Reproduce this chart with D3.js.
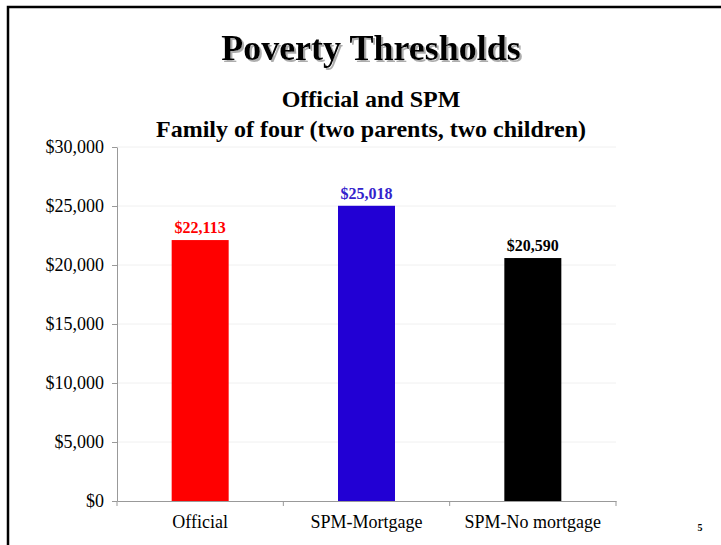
<!DOCTYPE html>
<html>
<head>
<meta charset="utf-8">
<script src="https://cdn.jsdelivr.net/npm/d3@7"></script>
<style>
  html, body { margin: 0; padding: 0; background: #fff; }
  svg { display: block; }
</style>
</head>
<body>
<svg id="chart" width="721" height="545"></svg>
<script>
// Poverty thresholds, family of four
const categories = ["Official", "SPM-Mortgage", "SPM-No mortgage"];
const values = [22113, 25018, 20590];
const barColors = ["#ff0000", "#2200d4", "#000000"];
const labelColors = ["#ff0000", "#3322cc", "#000000"];
const yTicks = [0, 5000, 10000, 15000, 20000, 25000, 30000];

const svg = d3.select("#chart");
const serif = "'Liberation Serif', 'Times New Roman', serif";

// soft grey shadow for the main title
const defs = svg.append("defs");
defs.append("filter").attr("id", "titleShadow")
  .attr("x", "-5%").attr("y", "-20%").attr("width", "110%").attr("height", "140%")
  .append("feDropShadow")
  .attr("dx", 2).attr("dy", 2).attr("stdDeviation", 0.6)
  .attr("flood-color", "#999").attr("flood-opacity", 0.8);

// slide frame (top and left edges)
svg.append("path")
  .attr("d", "M8,545 V7 H721")
  .attr("fill", "none")
  .attr("stroke", "#000")
  .attr("stroke-width", 2.5);

// titles
svg.append("text")
  .attr("x", 371).attr("y", 60)
  .attr("text-anchor", "middle")
  .attr("font-family", serif).attr("font-weight", "bold").attr("font-size", 36)
  .attr("fill", "#000")
  .attr("filter", "url(#titleShadow)")
  .text("Poverty Thresholds");

svg.append("text")
  .attr("x", 371).attr("y", 107)
  .attr("text-anchor", "middle")
  .attr("font-family", serif).attr("font-weight", "bold").attr("font-size", 24)
  .text("Official and SPM");
svg.append("text")
  .attr("x", 371).attr("y", 137)
  .attr("text-anchor", "middle")
  .attr("font-family", serif).attr("font-weight", "bold").attr("font-size", 24)
  .text("Family of four (two parents, two children)");

// scales
const x = d3.scaleBand().domain(categories).range([117, 616]).paddingInner(0).paddingOuter(0);
const y = d3.scaleLinear().domain([0, 30000]).range([501, 147]);
const barW = 57;

// gridlines
svg.append("g")
  .selectAll("line")
  .data(yTicks.filter(t => t > 0))
  .join("line")
  .attr("x1", 117).attr("x2", 616)
  .attr("y1", d => y(d)).attr("y2", d => y(d))
  .attr("stroke", "#f0f0f0").attr("stroke-width", 1);

// bars
svg.append("g")
  .selectAll("rect")
  .data(values)
  .join("rect")
  .attr("x", (d, i) => x(categories[i]) + x.bandwidth() / 2 - barW / 2)
  .attr("width", barW)
  .attr("y", d => y(d))
  .attr("height", d => y(0) - y(d))
  .attr("fill", (d, i) => barColors[i]);

// value labels
svg.append("g")
  .selectAll("text")
  .data(values)
  .join("text")
  .attr("x", (d, i) => x(categories[i]) + x.bandwidth() / 2)
  .attr("y", d => y(d) - 7)
  .attr("text-anchor", "middle")
  .attr("font-family", serif).attr("font-weight", "bold").attr("font-size", 16)
  .attr("fill", (d, i) => labelColors[i])
  .text(d => "$" + d3.format(",")(d));

// y axis
const yAxis = svg.append("g")
  .attr("transform", "translate(117,0)")
  .call(d3.axisLeft(y).tickValues(yTicks).tickSize(5).tickSizeOuter(0)
    .tickFormat(d => "$" + d3.format(",")(d)));
yAxis.select(".domain").attr("stroke", "#999");
yAxis.selectAll(".tick line").attr("stroke", "#999");
yAxis.selectAll(".tick text")
  .attr("font-family", serif).attr("font-size", 18).attr("fill", "#000")
  .attr("x", -13);

// x axis
const xAxis = svg.append("g")
  .attr("transform", "translate(0,501)")
  .call(d3.axisBottom(x).tickSize(0).tickSizeOuter(0));
xAxis.select(".domain").attr("stroke", "#999");
xAxis.selectAll(".tick text")
  .attr("font-family", serif).attr("font-size", 18).attr("fill", "#000")
  .attr("dy", 0).attr("y", 27);
// category separators
svg.append("g")
  .selectAll("line")
  .data(categories.map(c => x(c)).concat([x.range()[1]]))
  .join("line")
  .attr("x1", d => d).attr("x2", d => d)
  .attr("y1", 501).attr("y2", 506)
  .attr("stroke", "#999");

// page number
svg.append("text")
  .attr("x", 700).attr("y", 531)
  .attr("text-anchor", "middle")
  .attr("font-family", serif).attr("font-weight", "bold").attr("font-size", 10)
  .text("5");
</script>
</body>
</html>
